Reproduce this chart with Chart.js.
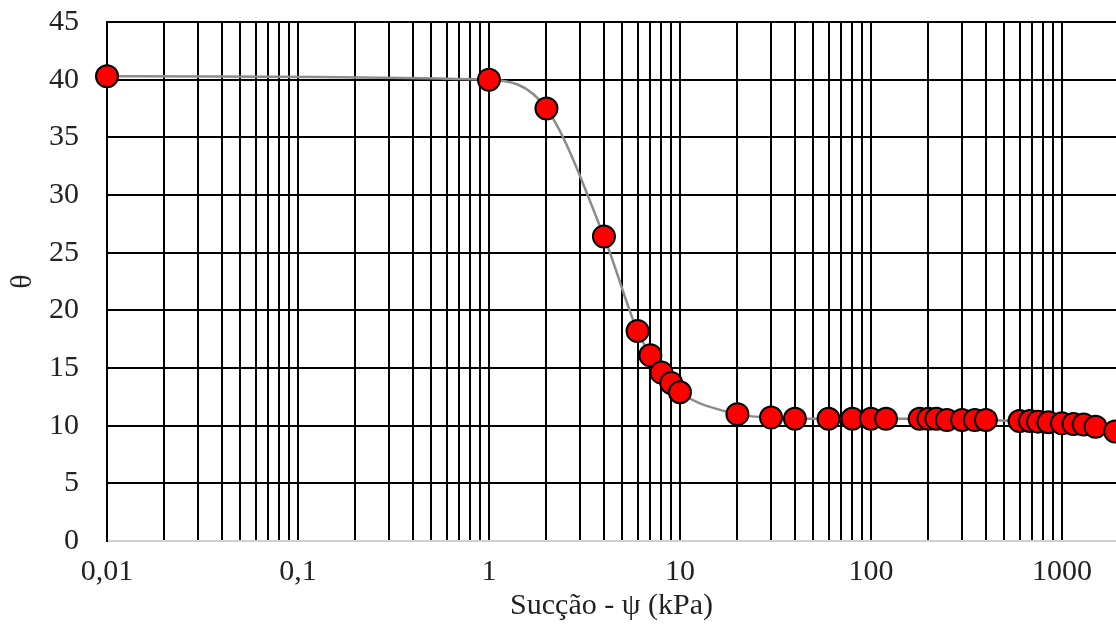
<!DOCTYPE html>
<html>
<head>
<meta charset="utf-8">
<script src="https://cdn.jsdelivr.net/npm/chart.js@4"></script>
<style>
  html, body { margin: 0; padding: 0; background: #fff; overflow: hidden; }
  #wrap { position: relative; width: 1116px; height: 628px; }
</style>
</head>
<body>
<div id="wrap"><canvas id="chart"></canvas></div>
<script>
// suction (kPa) and water content θ
const suction = [0.01, 1, 2, 4, 6, 7, 8, 9, 10, 20, 30, 40, 60, 80, 100, 120,
  180, 200, 220, 250, 300, 350, 400, 600, 680, 750, 850, 1000, 1150, 1300, 1500, 1900];
const theta = [40.3, 40.0, 37.5, 26.4, 18.2, 16.1, 14.6, 13.7, 12.9, 11.0, 10.7, 10.6, 10.6, 10.6, 10.6, 10.6,
  10.6, 10.6, 10.6, 10.5, 10.5, 10.5, 10.5, 10.4, 10.4, 10.35, 10.3, 10.2, 10.15, 10.1, 9.9, 9.5];

const xMin = 0.01;
const xMax = 1920;
const decades = [0.01, 0.1, 1, 10, 100, 1000];
const decadeLabels = ['0,01', '0,1', '1', '10', '100', '1000'];
const yTicks = [0, 5, 10, 15, 20, 25, 30, 35, 40, 45];

const font = { family: '"Liberation Serif", "Times New Roman", serif', size: 30 };

new Chart('chart', {
  type: 'line',
  data: {
    datasets: [{
      data: suction.map((x, i) => ({ x: x, y: theta[i] })),
      clip: false,
      borderColor: '#8c8c8c',
      borderWidth: 2.5,
      cubicInterpolationMode: 'monotone',
      pointRadius: 11,
      pointHoverRadius: 11,
      pointBackgroundColor: '#ff0000',
      pointBorderColor: '#000',
      pointBorderWidth: 2
    }]
  },
  options: {
    responsive: true,
    maintainAspectRatio: false,
    animation: false,
    layout: { autoPadding: false, padding: { top: 22, right: 0, bottom: 0, left: 0 } },
    plugins: { legend: { display: false }, tooltip: { enabled: false } },
    scales: {
      x: {
        type: 'logarithmic',
        min: xMin,
        max: xMax,
        afterBuildTicks: (scale) => {
          const t = [];
          decades.forEach(d => {
            for (let k = 1; k <= 9; k++) {
              const v = k * d;
              if (v <= xMax * 1.0001) t.push({ value: v });
            }
          });
          scale.ticks = t;
        },
        afterFit: (scale) => {
          scale.height = 87;
          scale.paddingLeft = 0;
          scale.paddingRight = 0;
        },
        ticks: {
          autoSkip: false,
          maxRotation: 0,
          padding: 13,
          color: '#222',
          font: font,
          callback: (value) => {
            const i = decades.findIndex(d => Math.abs(d - value) < d * 1e-6);
            return i >= 0 ? decadeLabels[i] : '';
          }
        },
        grid: { color: '#000', lineWidth: 2, drawTicks: false },
        border: { color: '#d0d0d0', width: 2 },
        title: {
          display: true,
          text: 'Sucção - ψ (kPa)',
          color: '#222',
          font: font,
          padding: { top: 0, bottom: 4 }
        }
      },
      y: {
        min: 0,
        max: 45,
        afterBuildTicks: (scale) => { scale.ticks = yTicks.map(v => ({ value: v })); },
        afterFit: (scale) => {
          scale.width = 107;
          scale.paddingTop = 0;
          scale.paddingBottom = 0;
        },
        ticks: { padding: 28, color: '#222', font: font },
        grid: {
          color: (ctx) => (ctx.tick && ctx.tick.value === 0 ? 'rgba(0,0,0,0)' : '#000'),
          lineWidth: 2,
          drawTicks: false
        },
        border: { color: '#000', width: 2 },
        title: {
          display: true,
          text: 'θ',
          color: '#222',
          font: font,
          padding: { top: 5, bottom: 0 }
        }
      }
    }
  }
});
</script>
</body>
</html>
